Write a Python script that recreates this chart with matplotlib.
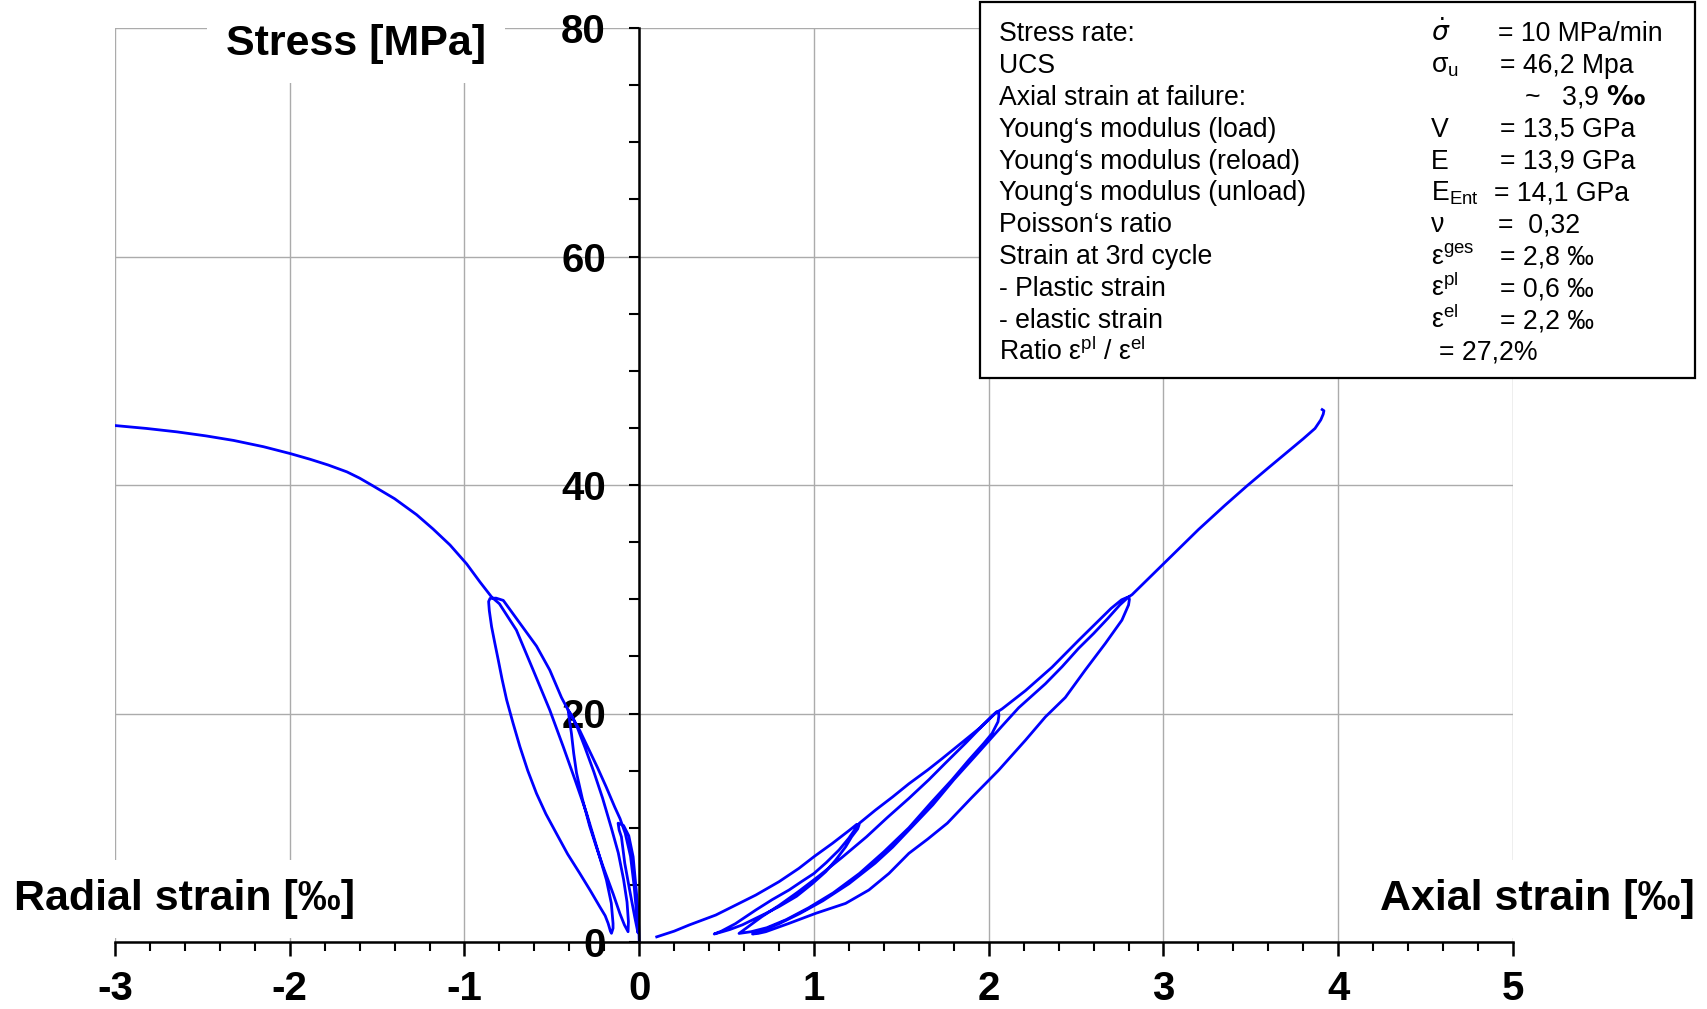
import matplotlib
matplotlib.use('Agg')
import matplotlib.pyplot as plt
from matplotlib.patches import Rectangle
from matplotlib.ticker import MultipleLocator

plt.rcParams['font.family'] = ['Liberation Sans', 'DejaVu Sans']
plt.rcParams['axes.unicode_minus'] = False

W, H = 1707, 1009

# axial strain [permille] / stress [MPa], one list per branch
ax_load1_strain = [0.10, 0.20, 0.286, 0.438, 0.533, 0.667, 0.80, 0.914, 1.0, 1.105, 1.20, 1.245]
ax_load1_stress = [0.45, 0.95, 1.49, 2.36, 3.09, 4.11, 5.28, 6.45, 7.47, 8.63, 9.75, 10.3]
ax_unload1_strain = [1.258, 1.25, 1.215, 1.181, 1.124, 1.067, 0.99, 0.90, 0.80, 0.724, 0.65, 0.59, 0.52, 0.476, 0.44, 0.429]
ax_unload1_stress = [10.25, 9.9, 9.2, 8.33, 7.17, 6.15, 5.1, 4.0, 3.1, 2.5, 1.95, 1.5, 1.1, 0.9, 0.75, 0.7]
ax_load2_strain = [0.429, 0.47, 0.55, 0.667, 0.76, 0.857, 0.93, 1.0, 1.07, 1.143, 1.20, 1.238, 1.26, 1.352,
                   1.45, 1.543, 1.65, 1.733, 1.81, 1.886, 1.95, 1.99, 2.02, 2.045]
ax_load2_stress = [0.7, 0.95, 1.6, 2.8, 3.7, 4.55, 5.3, 6.0, 6.95, 8.05, 9.1, 9.95, 10.4, 11.55,
                   12.7, 13.85, 15.05, 16.05, 17.0, 17.95, 18.75, 19.35, 19.8, 20.15]
ax_unload2_strain = [2.056, 2.058, 2.053, 2.019, 1.971, 1.886, 1.829, 1.79, 1.67, 1.543, 1.40, 1.26,
                     1.11, 0.97, 0.84, 0.73, 0.64, 0.571]
ax_unload2_stress = [20.15, 19.8, 19.28, 18.26, 17.38, 15.93, 14.9, 14.2, 12.2, 10.0, 7.9, 6.0,
                     4.3, 3.0, 1.95, 1.25, 0.9, 0.75]
ax_load3_strain = [0.571, 0.62, 0.70, 0.80, 0.91, 1.03, 1.16, 1.30, 1.42, 1.543, 1.657, 1.752, 1.867,
                   1.962, 2.01, 2.04, 2.076, 2.21, 2.362, 2.514, 2.62, 2.70, 2.76, 2.79]
ax_load3_stress = [0.75, 1.3, 2.2, 3.2, 4.4, 5.8, 7.4, 9.2, 10.9, 12.57, 14.2, 15.66, 17.4,
                   18.9, 19.6, 20.05, 20.4, 22.0, 24.05, 26.4, 28.0, 29.2, 29.95, 30.15]
ax_unload3_strain = [2.80, 2.805, 2.80, 2.762, 2.667, 2.552, 2.438, 2.324, 2.21, 2.057, 1.90, 1.763,
                     1.65, 1.543, 1.429, 1.314, 1.181, 1.01, 0.857, 0.724, 0.68, 0.648]
ax_unload3_stress = [30.2, 30.0, 29.5, 28.17, 26.13, 23.8, 21.4, 19.7, 17.66, 15.04, 12.6, 10.4,
                     9.0, 7.76, 6.0, 4.55, 3.38, 2.51, 1.63, 0.9, 0.75, 0.7]
ax_load4_strain = [0.648, 0.70, 0.80, 0.92, 1.05, 1.20, 1.35, 1.45, 1.543, 1.68, 1.80, 1.924, 2.076,
                   2.171, 2.324, 2.42, 2.514, 2.60, 2.68, 2.75, 2.79, 2.80, 2.82, 2.90, 3.0, 3.1,
                   3.2, 3.35, 3.476, 3.6, 3.714, 3.80, 3.867, 3.90, 3.914, 3.918, 3.908]
ax_load4_stress = [0.7, 1.0, 1.6, 2.5, 3.6, 5.1, 6.9, 8.3, 9.8, 12.0, 14.2, 16.3, 18.9,
                   20.5, 22.6, 24.1, 25.7, 27.0, 28.3, 29.5, 30.05, 30.2, 30.4, 31.6, 33.1, 34.6,
                   36.1, 38.2, 39.9, 41.5, 42.95, 44.05, 44.95, 45.7, 46.2, 46.5, 46.6]

# radial strain [permille] / stress [MPa]
rad_load1_strain = [0.0, -0.002, -0.006, -0.017, -0.035, -0.06, -0.09, -0.121]
rad_load1_stress = [0.0, 1.0, 2.5, 4.5, 7.46, 9.3, 10.2, 10.4]
rad_unload1_strain = [-0.121, -0.115, -0.102, -0.083, -0.055, -0.026, -0.01, -0.007]
rad_unload1_stress = [10.4, 9.8, 9.2, 6.9, 4.55, 2.2, 1.0, 0.8]
rad_load2_strain = [-0.007, -0.015, -0.03, -0.05, -0.08, -0.11, -0.14, -0.19, -0.24, -0.29, -0.34, -0.38, -0.407]
rad_load2_stress = [0.8, 2.5, 5.0, 7.5, 9.5, 10.8, 11.8, 13.6, 15.3, 16.9, 18.5, 19.6, 20.3]
rad_unload2_strain = [-0.407, -0.40, -0.388, -0.375, -0.359, -0.325, -0.283, -0.245, -0.207, -0.15, -0.111, -0.085, -0.064]
rad_unload2_stress = [20.3, 19.5, 18.25, 16.5, 14.8, 12.5, 10.1, 8.3, 6.6, 4.24, 2.5, 1.5, 0.9]
rad_load3_strain = [-0.064, -0.062, -0.07, -0.09, -0.12, -0.16, -0.21, -0.26, -0.31, -0.355, -0.39, -0.407,
                    -0.445, -0.512, -0.588, -0.683, -0.778, -0.82, -0.854]
rad_load3_stress = [0.9, 1.8, 3.5, 5.5, 7.8, 10.0, 12.6, 14.9, 17.0, 18.8, 19.9, 20.3,
                    21.4, 23.8, 25.9, 27.9, 29.9, 30.1, 30.07]
rad_unload3_strain = [-0.854, -0.862, -0.858, -0.845, -0.827, -0.807, -0.785, -0.759, -0.723, -0.683,
                      -0.638, -0.588, -0.534, -0.474, -0.41, -0.34, -0.28, -0.226, -0.195, -0.178,
                      -0.165, -0.159]
rad_unload3_stress = [30.07, 29.8, 29.0, 27.6, 26.2, 24.7, 23.0, 21.2, 19.2, 17.1,
                      15.0, 13.0, 11.2, 9.5, 7.7, 6.0, 4.5, 3.09, 2.3, 1.63, 0.95, 0.76]
rad_load4_strain = [-0.159, -0.15, -0.15, -0.16, -0.188, -0.245, -0.302, -0.37, -0.435, -0.512, -0.607,
                    -0.703, -0.80, -0.845, -0.911, -0.988, -1.083, -1.18, -1.274, -1.40, -1.521,
                    -1.60, -1.673, -1.78, -1.883, -1.997, -2.15, -2.321, -2.48, -2.645, -2.82,
                    -2.997, -3.2]
rad_load4_stress = [0.76, 1.2, 1.63, 3.4, 5.44, 8.4, 11.3, 14.3, 17.1, 20.3, 23.8, 27.3, 29.6, 30.2,
                    31.5, 33.1, 34.75, 36.15, 37.4, 38.8, 39.9, 40.6, 41.15, 41.75, 42.25, 42.75,
                    43.35, 43.9, 44.3, 44.65, 44.95, 45.2, 45.45]

x_ticks = [-3, -2, -1, 0, 1, 2, 3, 4, 5]
y_ticks = [0, 20, 40, 60, 80]

info_labels = ["Stress rate:", "UCS", "Axial strain at failure:", "Young\u2018s modulus (load)",
               "Young\u2018s modulus (reload)", "Young\u2018s modulus (unload)", "Poisson\u2018s ratio",
               "Strain at 3rd cycle", "- Plastic strain", "- elastic strain",
               r"Ratio ε$^\mathregular{pl}$ / ε$^\mathregular{el}$"]
info_symbols = [r"$\dot{\sigma}$", r"σ$_\mathregular{u}$", "", "V", "E", r"E$_\mathregular{Ent}$",
                "ν", r"ε$^\mathregular{ges}$", r"ε$^\mathregular{pl}$", r"ε$^\mathregular{el}$", ""]
info_values = ["= 10 MPa/min", "= 46,2 Mpa", r"~   3,9 $\mathbf{‰}$", "= 13,5 GPa", "= 13,9 GPa",
               "= 14,1 GPa", "=  0,32", "= 2,8 ‰", "= 0,6 ‰", "= 2,2 ‰", "= 27,2%"]
info_value_x = [1498, 1500, 1524, 1500, 1500, 1494, 1498, 1500, 1500, 1500, 1439]


def join(*parts):
    out = []
    for p in parts:
        out += p
    return out


axial_x = join(ax_load1_strain, ax_unload1_strain, ax_load2_strain, ax_unload2_strain,
               ax_load3_strain, ax_unload3_strain, ax_load4_strain)
axial_y = join(ax_load1_stress, ax_unload1_stress, ax_load2_stress, ax_unload2_stress,
               ax_load3_stress, ax_unload3_stress, ax_load4_stress)
radial_x = join(rad_load1_strain, rad_unload1_strain, rad_load2_strain, rad_unload2_strain,
                rad_load3_strain, rad_unload3_strain, rad_load4_strain)
radial_y = join(rad_load1_stress, rad_unload1_stress, rad_load2_stress, rad_unload2_stress,
                rad_load3_stress, rad_unload3_stress, rad_load4_stress)

fig = plt.figure(figsize=(W / 100, H / 100), dpi=100)
ax = fig.add_axes([115 / W, 1 - 942 / H, (1513 - 115) / W, (942 - 28) / H])

ax.plot(axial_x, axial_y, color='#0000ff', lw=2.0, solid_joinstyle='round', zorder=3)
ax.plot(radial_x, radial_y, color='#0000ff', lw=2.0, solid_joinstyle='round', zorder=3)

ax.set_xlim(-3, 5)
ax.set_ylim(0, 80)

# axes cross at the origin
ax.spines['left'].set_position(('data', 0))
ax.spines['top'].set_visible(False)
ax.spines['right'].set_visible(False)
for s in ['left', 'bottom']:
    ax.spines[s].set_linewidth(1.8)
    ax.spines[s].set_zorder(4)

ax.set_xticks(x_ticks, labels=[str(t) for t in x_ticks], fontsize=29, fontweight='bold')
ax.set_yticks(y_ticks, labels=[str(t) for t in y_ticks], fontsize=29, fontweight='bold')
ax.xaxis.set_minor_locator(MultipleLocator(0.2))
ax.yaxis.set_minor_locator(MultipleLocator(5))
ax.tick_params(axis='x', which='major', direction='out', length=10, width=1.8, pad=10)
ax.tick_params(axis='x', which='minor', direction='out', length=6.5, width=1.5)
ax.tick_params(axis='y', which='both', direction='out', length=7, width=1.5, pad=17)

ax.grid(True, which='major', color='#ababab', lw=1.0, zorder=0)
ax.set_axisbelow(True)

# axis titles with white boxes over the grid
box = dict(boxstyle='square,pad=0.45', fc='white', ec='none')
fig.text(356 / W, 1 - 44 / H, "Stress [MPa]", fontsize=31, fontweight='bold',
         ha='center', va='center', bbox=box)
fig.text(184 / W, 1 - 899 / H, "Radial strain [‰]", fontsize=31, fontweight='bold',
         ha='center', va='center', bbox=box)
fig.text(1537 / W, 1 - 899 / H, "Axial strain [‰]", fontsize=31, fontweight='bold',
         ha='center', va='center', bbox=box)

# parameter table
fig.add_artist(Rectangle((980 / W, 1 - 378 / H), (1695 - 980) / W, (378 - 2) / H,
                         transform=fig.transFigure, fc='white', ec='black', lw=1.6, zorder=2))
for i in range(len(info_labels)):
    yb = 1 - (41 + i * 31.9) / H
    fig.text(999 / W, yb, info_labels[i], fontsize=19.2, va='baseline', zorder=3)
    if info_symbols[i]:
        fig.text(1431 / W, yb, info_symbols[i], fontsize=19.2, va='baseline', zorder=3)
    fig.text(info_value_x[i] / W, yb, info_values[i], fontsize=19.2, va='baseline', zorder=3)

fig.savefig('out.png', dpi=100)
